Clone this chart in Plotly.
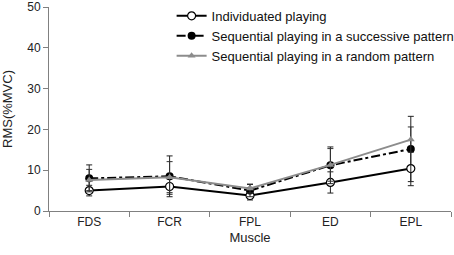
import plotly.graph_objects as go

muscles = ["FDS", "FCR", "FPL", "ED", "EPL"]

indiv = [5.0, 6.0, 3.8, 7.0, 10.4]
indiv_err = [1.3, 1.9, 1.1, 2.6, 4.2]

succ = [8.0, 8.5, 5.0, 11.2, 15.2]
succ_err = [3.3, 5.0, 1.5, 4.5, 8.0]

rand = [7.6, 8.3, 5.5, 11.3, 17.5]
rand_err = [2.6, 3.8, 1.1, 4.0, 3.1]

font = "Liberation Sans, Arial, sans-serif"

fig = go.Figure()

fig.add_trace(go.Scatter(
    x=muscles, y=indiv, name="Individuated playing", mode="lines+markers",
    line=dict(color="black", width=2),
    marker=dict(symbol="circle", size=8, color="white", line=dict(color="black", width=1.2)),
    error_y=dict(type="data", array=indiv_err, color="#222222", thickness=1, width=3),
))
fig.add_trace(go.Scatter(
    x=muscles, y=succ, name="Sequential playing in a successive pattern", mode="lines+markers",
    line=dict(color="black", width=2, dash="dashdot"),
    marker=dict(symbol="circle", size=8, color="black"),
    error_y=dict(type="data", array=succ_err, color="#222222", thickness=1, width=3),
))
fig.add_trace(go.Scatter(
    x=muscles, y=rand, name="Sequential playing in a random pattern", mode="lines+markers",
    line=dict(color="#8c8c8c", width=2),
    marker=dict(symbol="triangle-up", size=7, color="#8c8c8c"),
    error_y=dict(type="data", array=rand_err, color="#333333", thickness=1, width=3),
))

fig.update_layout(
    width=454, height=255,
    margin=dict(l=49, r=3, t=7, b=44, autoexpand=False),
    plot_bgcolor="white", paper_bgcolor="white",
    font=dict(family=font, size=12, color="#222222"),
    showlegend=True,
    legend=dict(x=0.305, y=1.03, xanchor="left", yanchor="top",
                font=dict(size=13, color="#111111"),
                bgcolor="rgba(0,0,0,0)", tracegroupgap=0, itemwidth=30),
    xaxis=dict(
        type="category", range=[-0.5, 4.5], tickson="boundaries",
        ticks="outside", ticklen=5, tickcolor="#808080", automargin=False,
        showline=True, linecolor="#808080", linewidth=1,
        showgrid=False, zeroline=False,
        tickfont=dict(size=12, color="#222222"),
        title=dict(text="Muscle", font=dict(size=13, color="#222222"), standoff=4),
    ),
    yaxis=dict(
        range=[0, 50], tickvals=[0, 10, 20, 30, 40, 50],
        ticks="outside", ticklen=5, tickcolor="#808080", automargin=False,
        ticklabeloverflow="allow",
        showline=True, linecolor="#808080", linewidth=1,
        showgrid=False, zeroline=False,
        tickfont=dict(size=12, color="#222222"),
        title=dict(text="RMS(%MVC)", font=dict(size=13, color="#222222"), standoff=12),
    ),
)

fig.write_html("out.html", config={"displayModeBar": False},
               post_script="document.body.style.margin='0';")
